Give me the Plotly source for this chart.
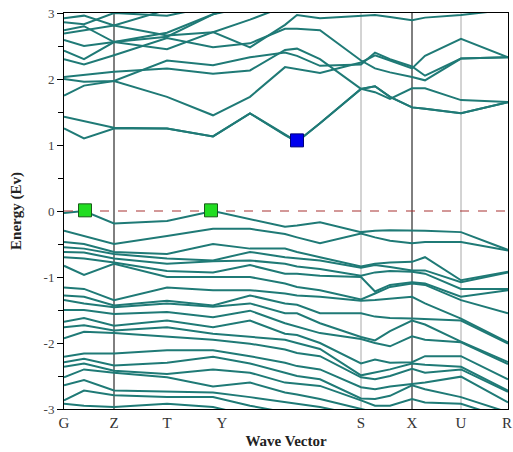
import plotly.graph_objects as go

# k-path node positions (horizontal coordinate along the path)
k_nodes = [64, 84, 114, 167, 213, 250, 285, 297, 320, 361, 375, 390, 412, 425, 461, 508]

# high-symmetry labels
tick_pos = [64, 114, 167, 222, 361, 412, 461, 507]
tick_txt = ["G", "Z", "T", "Y", "S", "X", "U", "R"]
black_lines = [114, 412]
gray_lines = [361, 461]

# conduction bands (energy in eV at each k node)
cb1 = [1.25, 1.10, 1.25, 1.25, 1.13, 1.48, 1.15, 1.05, 1.33, 1.85, 1.89, 1.73, 1.57, 1.55, 1.48, 1.65]
cb2 = [1.43, 1.36, 1.26, 1.25, 1.13, 1.48, 1.15, 1.05, 1.33, 1.85, 1.80, 1.70, 1.86, 1.86, 1.68, 1.65]
cb3 = [1.75, 1.90, 1.97, 1.73, 1.45, 1.73, 2.18, 2.15, 2.09, 2.25, 2.36, 2.28, 2.16, 2.35, 2.61, 2.33]
cb4 = [2.03, 2.06, 2.11, 2.16, 2.08, 2.13, 2.44, 2.46, 2.30, 1.85, 1.89, 1.73, 1.57, 1.55, 1.48, 1.65]
cb5 = [2.00, 1.96, 1.97, 2.28, 2.21, 2.33, 2.40, 2.35, 2.20, 2.22, 2.40, 2.30, 2.19, 2.05, 2.31, 2.33]
cb6 = [2.30, 2.22, 2.36, 2.62, 2.48, 2.54, 2.76, 2.76, 2.74, 2.28, 2.16, 2.10, 2.03, 1.98, 2.31, 2.33]
cb7 = [2.43, 2.30, 2.56, 2.45, 2.71, 2.48, 2.82, 2.97, 2.92, 2.96, 2.97, 2.94, 2.89, 2.93, 2.97, 3.05]
cb8 = [2.59, 2.50, 2.56, 2.70, 2.98, 3.10, 3.20, 3.20, 3.20, 3.20, 3.20, 3.20, 3.20, 3.20, 3.20, 3.20]
cb9 = [2.69, 2.74, 2.81, 2.66, 2.71, 2.90, 3.10, 3.15, 3.15, 3.15, 3.15, 3.15, 3.15, 3.15, 3.15, 3.15]
cb10 = [2.74, 2.80, 2.56, 2.64, 2.98, 3.15, 3.20, 3.20, 3.20, 3.20, 3.20, 3.20, 3.20, 3.20, 3.20, 3.20]
cb11 = [2.86, 2.83, 3.00, 2.96, 3.10, 3.20, 3.20, 3.20, 3.20, 3.20, 3.20, 3.20, 3.20, 3.20, 3.20, 3.20]
cb12 = [2.92, 2.96, 2.81, 3.05, 3.15, 3.20, 3.20, 3.20, 3.20, 3.20, 3.20, 3.20, 3.20, 3.20, 3.20, 3.20]
conduction = [cb1, cb2, cb3, cb4, cb5, cb6, cb7, cb8, cb9, cb10, cb11, cb12]

# valence-band energies at each k node (top band first)
vb_G = [-0.03, -0.30, -0.47, -0.55, -0.62, -0.70, -0.83, -1.16, -1.28, -1.35, -1.50, -1.68, -1.76, -1.93, -2.21, -2.29, -2.36, -2.52, -2.64, -2.87, -2.92]
vb_a = [0.00, -0.38, -0.50, -0.57, -0.63, -0.72, -0.97, -1.18, -1.30, -1.40, -1.50, -1.62, -1.73, -1.83, -2.16, -2.24, -2.31, -2.40, -2.56, -2.72, -2.95]
vb_Z = [-0.19, -0.50, -0.62, -0.65, -0.72, -0.78, -0.80, -1.35, -1.43, -1.46, -1.56, -1.74, -1.81, -1.85, -2.16, -2.34, -2.42, -2.45, -2.72, -2.79, -2.97]
vb_T = [-0.15, -0.38, -0.65, -0.72, -0.80, -0.91, -1.00, -1.16, -1.36, -1.40, -1.53, -1.66, -1.76, -1.90, -2.11, -2.30, -2.47, -2.52, -2.74, -2.82, -2.92]
vb_Y = [0.00, -0.27, -0.50, -0.75, -0.76, -0.93, -1.00, -1.20, -1.43, -1.45, -1.61, -1.76, -1.86, -1.95, -2.11, -2.21, -2.40, -2.66, -2.75, -2.82, -2.97]
vb_b = [-0.12, -0.27, -0.57, -0.62, -0.75, -0.82, -1.00, -1.20, -1.28, -1.40, -1.51, -1.66, -1.91, -2.01, -2.20, -2.31, -2.45, -2.60, -2.82, -2.95, -3.10]
vb_c = [-0.24, -0.35, -0.57, -0.70, -0.80, -0.95, -1.10, -1.25, -1.40, -1.55, -1.70, -1.86, -1.95, -2.10, -2.30, -2.45, -2.60, -2.75, -2.90, -3.05, -3.15]
vb_d = [-0.22, -0.40, -0.62, -0.72, -0.84, -0.95, -1.15, -1.28, -1.42, -1.55, -1.75, -1.88, -2.00, -2.15, -2.35, -2.50, -2.62, -2.78, -2.92, -3.05, -3.15]
vb_e = [-0.17, -0.49, -0.70, -0.75, -0.88, -0.98, -1.20, -1.30, -1.55, -1.70, -1.85, -2.00, -2.09, -2.20, -2.40, -2.55, -2.65, -2.85, -2.97, -3.10, -3.20]
vb_S = [-0.32, -0.34, -0.84, -0.86, -0.98, -1.00, -1.34, -1.36, -1.55, -1.91, -1.94, -2.31, -2.49, -2.52, -2.67, -2.84, -2.87, -3.00, -3.10, -3.20, -3.30]
vb_f = [-0.30, -0.40, -0.80, -0.82, -0.93, -1.22, -1.25, -1.35, -1.60, -1.96, -2.00, -2.25, -2.45, -2.55, -2.70, -2.85, -2.95, -3.05, -3.15, -3.25, -3.35]
vb_g = [-0.29, -0.45, -0.78, -0.85, -0.91, -1.12, -1.15, -1.33, -1.62, -1.82, -2.05, -2.30, -2.40, -2.50, -2.66, -2.80, -2.95, -3.05, -3.15, -3.25, -3.35]
vb_X = [-0.29, -0.49, -0.77, -0.90, -0.92, -1.08, -1.10, -1.30, -1.63, -1.66, -1.90, -2.29, -2.31, -2.39, -2.62, -2.64, -2.85, -3.02, -3.10, -3.20, -3.30]
vb_h = [-0.30, -0.47, -0.70, -0.90, -0.95, -1.10, -1.12, -1.40, -1.64, -1.72, -1.95, -2.20, -2.33, -2.45, -2.60, -2.70, -2.90, -3.05, -3.15, -3.25, -3.35]
vb_U = [-0.32, -0.47, -1.05, -1.08, -1.18, -1.30, -1.35, -1.63, -1.66, -1.98, -1.99, -2.20, -2.36, -2.40, -2.51, -2.82, -2.92, -3.05, -3.15, -3.25, -3.35]
vb_R = [-0.59, -0.60, -0.92, -0.93, -1.18, -1.20, -1.55, -1.99, -2.01, -2.29, -2.32, -2.55, -2.72, -2.74, -2.90, -3.05, -3.15, -3.25, -3.35, -3.45, -3.55]
valence_cols = [vb_G, vb_a, vb_Z, vb_T, vb_Y, vb_b, vb_c, vb_d, vb_e, vb_S, vb_f, vb_g, vb_X, vb_h, vb_U, vb_R]

# band-edge markers
vbm_k = [85, 211]
vbm_e = [0.01, 0.01]
cbm_k = [297]
cbm_e = [1.07]

band_color = "#1f7a76"
fig = go.Figure()

for band in conduction:
    fig.add_trace(go.Scatter(x=k_nodes, y=band, mode="lines",
                             line=dict(color=band_color, width=2), hoverinfo="skip", showlegend=False))

n_vb = len(vb_G)
for i in range(n_vb):
    band = [col[i] for col in valence_cols]
    fig.add_trace(go.Scatter(x=k_nodes, y=band, mode="lines",
                             line=dict(color=band_color, width=2), hoverinfo="skip", showlegend=False))

# Fermi level
fig.add_trace(go.Scatter(x=[64, 508], y=[0, 0], mode="lines",
                         line=dict(color="#a83232", width=1.2, dash="dash"), hoverinfo="skip", showlegend=False))

fig.add_trace(go.Scatter(x=vbm_k, y=vbm_e, mode="markers",
                         marker=dict(symbol="square", size=13, color="#22dd22",
                                     line=dict(color="#1a5a1a", width=1)), showlegend=False))
fig.add_trace(go.Scatter(x=cbm_k, y=cbm_e, mode="markers",
                         marker=dict(symbol="square", size=13, color="#0000ee",
                                     line=dict(color="#00007a", width=1)), showlegend=False))

shapes = []
for xv in black_lines:
    shapes.append(dict(type="line", xref="x", yref="paper", x0=xv, x1=xv, y0=0, y1=1,
                       line=dict(color="black", width=1), layer="below"))
for xv in gray_lines:
    shapes.append(dict(type="line", xref="x", yref="paper", x0=xv, x1=xv, y0=0, y1=1,
                       line=dict(color="#a8a8a8", width=1), layer="below"))

serif = "Liberation Serif, Times New Roman, serif"
fig.update_layout(
    width=513, height=452,
    margin=dict(l=64, r=5, t=13, b=43, autoexpand=False),
    paper_bgcolor="white", plot_bgcolor="white",
    shapes=shapes,
    font=dict(family=serif, color="#333333"),
    xaxis=dict(range=[64, 508], tickmode="array", tickvals=tick_pos, ticktext=tick_txt,
               showgrid=False, zeroline=False, showline=True, linecolor="black", linewidth=1,
               mirror=True, ticks="", ticklabeloverflow="allow", automargin=False,
               tickfont=dict(family=serif, size=15, color="#333333"),
               title=dict(text="<b>Wave Vector</b>", font=dict(family=serif, size=15, color="#222222"),
                          standoff=5)),
    yaxis=dict(range=[-3, 3], tickmode="array", tickvals=[-3, -2, -1, 0, 1, 2, 3],
               ticktext=["-3", "-2", "-1", "0", "1", "2", "3"], automargin=False,
               showgrid=False, zeroline=False, showline=True, linecolor="black", linewidth=1,
               mirror=True, ticks="outside", ticklen=6, tickcolor="black",
               minor=dict(tickvals=[-2.5, -1.5, -0.5, 0.5, 1.5, 2.5], ticks="outside", ticklen=5,
                          tickcolor="black"),
               tickfont=dict(family=serif, size=13, color="#444444"),
               title=dict(text="<b>Energy (Ev)</b>", font=dict(family=serif, size=15, color="#222222"),
                          standoff=18)),
)

fig.write_html("out.html")
